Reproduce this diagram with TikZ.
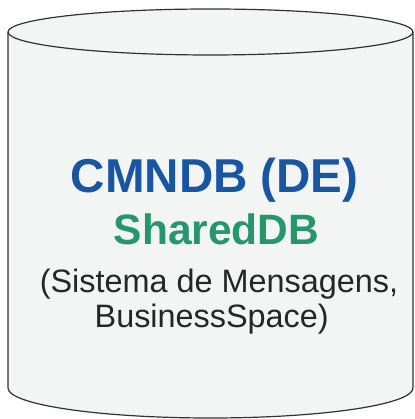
\documentclass[tikz,border=0pt]{standalone}
\usepackage{xcolor}
\usepackage{fontspec}
\setmainfont{Liberation Sans}
\usepackage{tikz}

\definecolor{dbblue}{RGB}{24,86,164}
\definecolor{dbgreen}{RGB}{38,150,108}
\definecolor{dbfill}{RGB}{243,244,244}
\definecolor{dbline}{RGB}{50,50,50}

\tikzset{
    cylpart/.style={draw=dbline, fill=dbfill, line width=1.2pt},
    dbname/.style={anchor=base, text=dbblue, font=\fontsize{47.5}{50}\selectfont\bfseries, inner sep=0pt},
    dbshared/.style={anchor=base, text=dbgreen, font=\fontsize{42.5}{45}\selectfont\bfseries, inner sep=0pt},
    dbnote/.style={anchor=base, text=black!85, font=\fontsize{32.4}{35}\selectfont, inner sep=0pt}
}

\begin{document}
\begin{tikzpicture}[x=1pt, y=1pt]
    \useasboundingbox (0,0) rectangle (414,419);

    % body of the cylinder
    \draw[cylpart] (8,387) -- (8,31) arc[start angle=180, end angle=360, x radius=202.5, y radius=30] -- (413,387);
    % top lid
    \draw[cylpart] (210.5,387) ellipse[x radius=202.5, y radius=23];

    \node[dbname] (cmndb) at (214.7,226) {CMNDB (DE)};
    \node[dbshared] (shared) at (216.5,174) {SharedDB};
    \node[dbnote] (msgs) at (219,126.3) {(Sistema de Mensagens,};
    \node[dbnote] (bspace) at (211.7,91.3) {BusinessSpace)};
\end{tikzpicture}
\end{document}
